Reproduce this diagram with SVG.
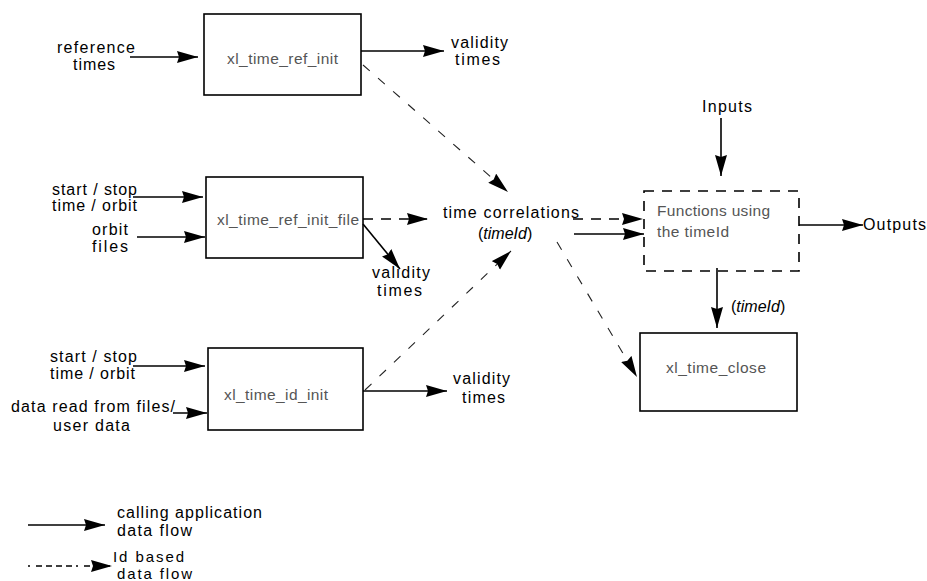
<svg xmlns="http://www.w3.org/2000/svg" width="927" height="581" viewBox="0 0 927 581">
<style>
.box{fill:#fff;stroke:#000;stroke-width:1.6}
.dbox{fill:none;stroke:#000;stroke-width:1.6;stroke-dasharray:10,8}
.bt{font-family:"Liberation Sans",Arial,sans-serif;font-size:15.5px;fill:#555}
.lt{font-family:"Liberation Sans",Arial,sans-serif;font-size:16px;fill:#000}
.sm{font-size:15px}
.it{font-style:italic}
.s{fill:none;stroke:#000;stroke-width:1.6}
.d{fill:none;stroke:#222;stroke-width:1.1;stroke-dasharray:9,11}
.dk{fill:none;stroke:#000;stroke-width:1.5;stroke-dasharray:10,8}
</style>
<defs>
<marker id="ah" markerUnits="userSpaceOnUse" markerWidth="22" markerHeight="13" refX="21" refY="6" orient="auto" viewBox="0 0 22 13">
<path d="M0,0 L21,6 L0,12 L2,6 Z" fill="#000"/>
</marker>
</defs>
<rect width="927" height="581" fill="#fff"/>

<g id="node-ref-init">
<rect class="box" x="204" y="14" width="157" height="81"/>
<text class="bt" x="227" y="64" textLength="111" lengthAdjust="spacing">xl_time_ref_init</text>
</g>
<g id="node-ref-init-file">
<rect class="box" x="206" y="177" width="157" height="81"/>
<text class="bt" x="217" y="225" textLength="142" lengthAdjust="spacing">xl_time_ref_init_file</text>
</g>
<g id="node-id-init">
<rect class="box" x="208" y="348" width="155" height="82"/>
<text class="bt" x="224" y="400" textLength="104" lengthAdjust="spacing">xl_time_id_init</text>
</g>
<g id="node-close">
<rect class="box" x="640" y="333" width="157" height="78"/>
<text class="bt" x="666" y="373" textLength="100" lengthAdjust="spacing">xl_time_close</text>
</g>
<g id="node-functions">
<rect class="dbox" x="644" y="191" width="155" height="80"/>
<text class="bt" x="657" y="216" textLength="113" lengthAdjust="spacing">Functions using</text>
<text class="bt" x="657" y="237" textLength="72" lengthAdjust="spacing">the timeId</text>
</g>
<g id="node-time-correlations">
<text class="lt" x="443" y="218" textLength="136" lengthAdjust="spacing">time correlations</text>
<text class="lt" x="478" y="239">(<tspan class="it">timeId</tspan>)</text>
</g>

<g id="labels">
<text class="lt" x="57" y="53" textLength="78" lengthAdjust="spacing">reference</text>
<text class="lt" x="73" y="70" textLength="42" lengthAdjust="spacing">times</text>
<text class="lt" x="451" y="48" textLength="57" lengthAdjust="spacing">validity</text>
<text class="lt" x="455" y="65" textLength="45" lengthAdjust="spacing">times</text>
<text class="lt" x="52" y="195" textLength="85" lengthAdjust="spacing">start / stop</text>
<text class="lt" x="52" y="211" textLength="85" lengthAdjust="spacing">time / orbit</text>
<text class="lt" x="92" y="235" textLength="36" lengthAdjust="spacing">orbit</text>
<text class="lt" x="92" y="252" textLength="36" lengthAdjust="spacing">files</text>
<text class="lt" x="372" y="278" textLength="58" lengthAdjust="spacing">validity</text>
<text class="lt" x="377" y="296" textLength="45" lengthAdjust="spacing">times</text>
<text class="lt" x="50" y="362" textLength="87" lengthAdjust="spacing">start / stop</text>
<text class="lt" x="50" y="379" textLength="85" lengthAdjust="spacing">time / orbit</text>
<text class="lt" x="11" y="412" textLength="164" lengthAdjust="spacing">data read from files/</text>
<text class="lt" x="53" y="431" textLength="77" lengthAdjust="spacing">user data</text>
<text class="lt" x="453" y="384" textLength="57" lengthAdjust="spacing">validity</text>
<text class="lt" x="462" y="403" textLength="43" lengthAdjust="spacing">times</text>
<text class="lt" x="702" y="112" textLength="50" lengthAdjust="spacing">Inputs</text>
<text class="lt" x="863" y="230" textLength="63" lengthAdjust="spacing">Outputs</text>
<text class="lt" x="731" y="312">(<tspan class="it">timeId</tspan>)</text>
</g>

<g id="legend">
<line class="s" x1="28" y1="525" x2="105" y2="525" marker-end="url(#ah)"/>
<text class="lt" x="117" y="518" textLength="145" lengthAdjust="spacing">calling application</text>
<text class="lt" x="117" y="536" textLength="75" lengthAdjust="spacing">data flow</text>
<line x1="28" y1="566" x2="112" y2="566" stroke="#000" stroke-width="1.4" stroke-dasharray="2,6,6,4,6,4,6,4,6,4" marker-end="url(#ah)"/>
<text class="lt sm" x="113" y="562" textLength="71" lengthAdjust="spacing">Id based</text>
<text class="lt sm" x="117" y="579" textLength="75" lengthAdjust="spacing">data flow</text>
</g>

<g id="connectors">
<line class="s" x1="130" y1="57" x2="198" y2="57" marker-end="url(#ah)"/>
<line class="s" x1="361" y1="51" x2="444" y2="51" marker-end="url(#ah)"/>
<line class="s" x1="133" y1="197" x2="203" y2="197" marker-end="url(#ah)"/>
<line class="s" x1="137" y1="237" x2="205" y2="237" marker-end="url(#ah)"/>
<line class="s" x1="363" y1="224" x2="400" y2="269" marker-end="url(#ah)"/>
<line class="dk" x1="363" y1="219" x2="428" y2="219" marker-end="url(#ah)"/>
<line class="s" x1="133" y1="366" x2="205" y2="366" marker-end="url(#ah)"/>
<line class="s" x1="173" y1="413" x2="207" y2="413" marker-end="url(#ah)"/>
<line class="s" x1="363" y1="391" x2="447" y2="391" marker-end="url(#ah)"/>
<line class="d" x1="363" y1="65" x2="508" y2="192" marker-end="url(#ah)"/>
<line class="d" x1="365" y1="390" x2="511" y2="251" marker-end="url(#ah)"/>
<line class="d" x1="557" y1="242" x2="637" y2="377" marker-end="url(#ah)"/>
<line class="dk" x1="573" y1="219" x2="643" y2="219" marker-end="url(#ah)"/>
<line class="s" x1="574" y1="234" x2="644" y2="234" marker-end="url(#ah)"/>
<line class="s" x1="721" y1="118" x2="721" y2="176" marker-end="url(#ah)"/>
<line class="s" x1="799" y1="225" x2="863" y2="225" marker-end="url(#ah)"/>
<line class="s" x1="717" y1="268" x2="717" y2="328" marker-end="url(#ah)"/>
</g>
</svg>
